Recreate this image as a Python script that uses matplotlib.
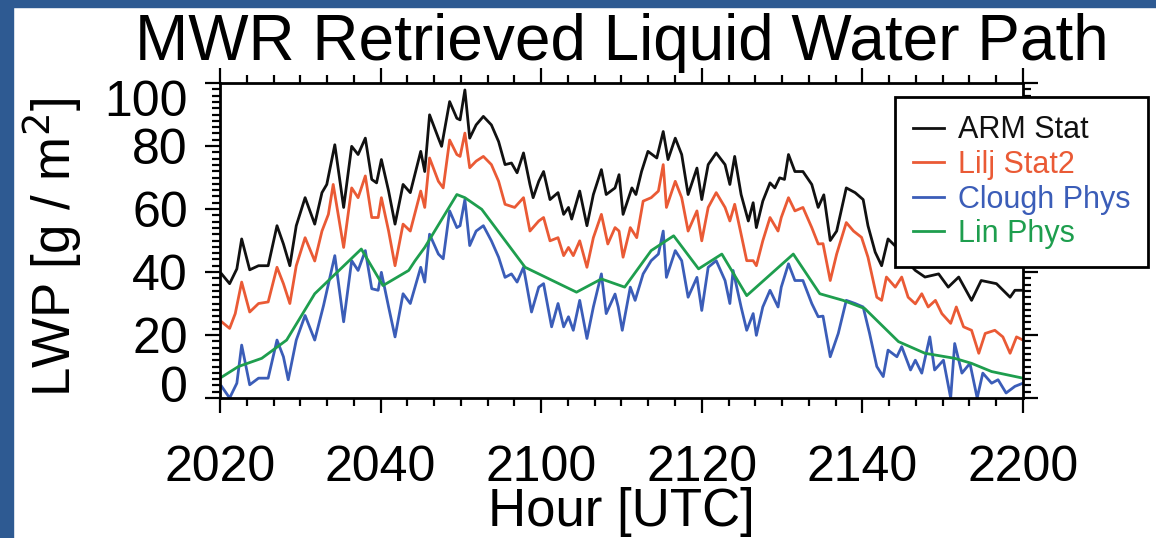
import matplotlib
matplotlib.use('Agg')
import matplotlib.pyplot as plt
from matplotlib.ticker import MultipleLocator
from matplotlib.patches import Rectangle
from matplotlib.transforms import ScaledTranslation

# time in minutes after 20:20 UTC, LWP in g/m2
arm_t = [0.2, 1.2, 2.1, 2.7, 3.7, 4.8, 6.0, 7.1, 7.9, 8.7, 9.5, 10.6, 11.8, 12.7, 13.3, 14.3,
         15.4, 16.4, 17.2, 18.1, 18.9, 19.5, 20.1, 21.0, 21.8, 22.8, 23.7, 25.0, 25.5, 26.1,
         27.2, 27.6, 28.6, 29.5, 29.9, 30.5, 31.1, 31.9, 32.8, 33.8, 34.7, 35.5, 36.3, 37.0,
         37.8, 38.6, 39.0, 39.7, 40.3, 41.1, 42.1, 42.8, 43.4, 43.8, 44.8, 45.7, 46.5, 47.5,
         48.1, 49.2, 49.7, 50.2, 51.3, 51.8, 52.5, 53.3, 54.4, 55.2, 55.8, 56.7, 57.5, 58.3,
         59.4, 60.0, 60.8, 61.8, 62.9, 63.5, 64.1, 64.9, 65.8, 66.4, 66.8, 67.6, 68.5, 69.1,
         69.7, 70.3, 70.8, 71.6, 72.6, 73.7, 74.5, 75.2, 76.0, 76.8, 78.0, 79.1, 80.1, 80.7,
         81.6, 82.4, 83.2, 84.2, 85.3, 86.6, 87.8, 89.5, 90.7, 92.0, 93.6, 94.8, 96.7, 98.4,
         99.0, 99.8]
arm_lwp = [39.4, 36.3, 41.0, 50.5, 40.7, 42.0, 42.0, 54.7, 48.9, 42.0, 54.7, 63.6, 55.2, 65.2, 67.8, 80.4,
           60.5, 79.9, 77.3, 82.5, 69.4, 68.3, 75.7, 65.7, 55.2, 67.8, 65.2, 78.3, 71.9, 89.9,
           82.5, 79.9, 94.1, 88.8, 88.3, 97.8, 82.5, 86.7, 89.4, 86.7, 81.4, 74.1, 74.6, 71.5,
           77.8, 67.8, 63.6, 68.8, 71.9, 63.0, 65.2, 58.3, 60.5, 56.8, 65.7, 54.7, 64.6, 72.5,
           64.6, 66.7, 70.9, 58.3, 66.7, 64.6, 71.9, 78.3, 76.2, 84.6, 75.7, 82.5, 77.3, 64.6,
           73.0, 63.0, 74.1, 77.8, 74.1, 67.8, 76.7, 64.6, 56.2, 62.0, 54.1, 62.5, 68.3, 66.7,
           69.9, 69.4, 77.3, 71.9, 71.9, 67.8, 60.5, 64.5, 50.0, 53.0, 66.7, 65.2, 63.0, 54.7,
           46.3, 42.0, 50.5, 48.0, 44.0, 40.5, 38.4, 39.4, 35.2, 38.4, 31.0, 37.3, 36.3, 32.0,
           34.2, 34.2]

lilj_t = [0.2, 1.2, 1.9, 2.7, 3.7, 4.8, 6.0, 7.1, 7.9, 8.7, 9.5, 10.6, 11.8, 12.7, 13.5, 14.1,
          15.4, 16.4, 17.2, 18.1, 18.9, 19.7, 20.1, 21.0, 21.8, 22.8, 23.7, 25.0, 25.5, 26.1,
          27.2, 27.8, 28.6, 29.5, 29.9, 30.5, 31.1, 31.9, 32.8, 33.8, 34.7, 35.5, 36.7, 37.8,
          38.6, 39.7, 40.3, 41.1, 42.1, 42.8, 43.4, 44.0, 44.8, 45.7, 46.5, 47.5, 48.3, 49.2,
          49.7, 50.2, 51.1, 51.9, 52.7, 53.7, 54.6, 55.2, 55.6, 56.7, 57.5, 58.3, 59.4, 60.0,
          60.8, 61.8, 62.9, 63.5, 64.1, 64.9, 65.6, 66.4, 66.8, 67.6, 68.5, 69.5, 69.9, 70.8,
          71.6, 72.6, 73.7, 74.5, 75.1, 76.0, 76.8, 78.0, 78.9, 79.9, 80.7, 81.8, 82.4, 83.0,
          84.1, 84.9, 85.7, 86.6, 87.4, 88.2, 89.1, 89.9, 91.0, 91.7, 92.6, 93.6, 94.5, 95.3,
          96.5, 97.5, 98.4, 99.2, 100.0]
lilj_lwp = [24.2, 22.1, 26.8, 36.8, 27.3, 30.0, 30.5, 41.5, 36.3, 30.0, 42.0, 50.9, 43.5, 53.0, 58.3, 67.8,
            47.8, 66.7, 63.6, 70.5, 57.3, 57.3, 63.6, 53.0, 42.0, 55.2, 53.0, 65.7, 60.5, 76.2,
            68.8, 66.7, 81.9, 77.3, 76.7, 84.1, 73.1, 75.2, 76.7, 74.1, 68.8, 61.5, 60.5, 63.6,
            53.0, 56.2, 57.3, 49.9, 50.9, 45.2, 47.8, 45.2, 49.9, 41.5, 50.9, 58.3, 48.9, 54.1,
            53.0, 44.7, 54.1, 50.9, 62.5, 63.6, 65.7, 74.1, 60.5, 68.8, 63.6, 53.0, 59.4, 49.9,
            60.5, 65.2, 60.5, 56.2, 61.5, 52.0, 43.6, 43.6, 42.0, 49.9, 57.3, 53.0, 57.3, 63.6,
            59.4, 60.5, 54.1, 48.9, 49.0, 37.3, 45.7, 55.7, 53.0, 51.0, 44.7, 32.0, 31.0, 38.4,
            35.2, 38.4, 32.0, 29.9, 33.1, 28.9, 31.0, 26.8, 23.7, 28.9, 22.6, 21.5, 14.2, 20.5,
            21.5, 19.4, 14.2, 19.4, 18.4]

clough_t = [0.2, 1.2, 2.1, 2.7, 3.7, 4.8, 6.0, 7.1, 7.9, 8.5, 9.5, 10.6, 11.8, 12.9, 14.3, 15.4,
            16.4, 17.2, 18.1, 18.9, 19.7, 20.1, 21.0, 21.8, 22.8, 23.7, 25.0, 25.5, 26.1, 27.2,
            27.8, 28.6, 29.5, 29.9, 30.5, 31.1, 31.9, 32.8, 33.8, 34.7, 35.5, 36.3, 37.0, 37.8,
            38.8, 39.7, 40.3, 41.3, 42.1, 42.8, 43.4, 44.0, 44.8, 45.7, 46.5, 47.5, 48.1, 49.2,
            49.6, 50.1, 51.1, 51.7, 52.7, 53.7, 54.6, 55.2, 55.6, 56.7, 57.5, 58.3, 59.4, 60.0,
            60.8, 61.8, 62.9, 63.5, 63.9, 64.9, 65.6, 66.4, 66.8, 67.6, 68.5, 69.5, 69.9, 70.8,
            71.6, 72.6, 73.7, 74.5, 75.1, 76.0, 77.0, 78.0, 79.1, 80.1, 80.9, 81.8, 82.6, 83.2,
            84.3, 84.9, 86.0, 86.6, 87.4, 88.4, 89.0, 90.1, 91.0, 91.5, 92.4, 93.4, 94.3, 95.0,
            96.1, 96.9, 97.9, 99.0, 100.0]
clough_lwp = [3.7, 0.0, 4.7, 16.8, 4.2, 6.3, 6.3, 18.4, 13.1, 5.8, 18.4, 26.2, 18.4, 29.4, 45.2, 24.2,
              43.6, 40.5, 46.8, 34.7, 34.2, 39.9, 28.9, 19.4, 33.1, 30.0, 41.5, 36.8, 52.0, 45.7,
              44.2, 59.4, 54.1, 54.7, 63.0, 48.4, 53.0, 54.7, 49.9, 44.7, 38.3, 39.4, 36.8, 41.5,
              27.3, 35.2, 36.3, 22.6, 30.0, 22.6, 25.8, 21.5, 31.0, 18.9, 28.9, 39.4, 26.8, 33.0,
              28.9, 21.5, 35.2, 31.0, 39.4, 43.6, 45.7, 53.0, 38.3, 46.8, 43.6, 32.0, 38.3, 27.8,
              41.5, 43.6, 37.3, 30.0, 40.5, 28.9, 21.5, 26.8, 19.9, 28.9, 34.2, 28.9, 35.2, 42.6,
              37.3, 37.3, 30.0, 25.8, 26.0, 13.1, 20.5, 31.0, 30.0, 28.9, 20.5, 10.0, 6.8, 15.2,
              13.1, 16.3, 8.9, 12.0, 7.9, 19.4, 8.9, 12.0, 0.0, 17.3, 7.9, 11.0, 0.0, 7.9,
              4.7, 5.8, 1.6, 3.7, 4.7]

lin_t = [0.0, 2.3, 5.2, 8.3, 11.8, 17.6, 20.3, 23.5, 24.3, 25.5, 29.5, 30.5, 32.6, 38.0, 44.4,
         47.5, 50.4, 53.7, 56.5, 59.6, 62.5, 65.6, 71.4, 74.7, 77.6, 80.3, 84.5, 87.8, 91.5,
         93.6, 96.1, 100.0]
lin_lwp = [6.3, 10.0, 12.6, 18.4, 33.1, 47.3, 35.7, 40.5, 43.6, 47.8, 64.6, 63.6, 59.9, 41.5, 33.6,
           37.8, 35.2, 46.8, 51.5, 41.0, 45.7, 32.5, 45.7, 33.1, 31.0, 28.4, 17.9, 14.2, 12.6,
           11.0, 8.4, 6.3]

hour_ticks = [0, 20, 40, 60, 80, 100]
hour_labels = ['2020', '2040', '2100', '2120', '2140', '2200']
lwp_ticks = [0, 20, 40, 60, 80, 100]
lwp_labels = ['0', '20', '40', '60', '80', '100']

plt.rcParams['font.family'] = ['Liberation Sans', 'DejaVu Sans']

fig = plt.figure(figsize=(11.56, 5.38), dpi=100)
fig.patch.set_facecolor('white')

# blue frame strips at the top and left edge
fig.patches.append(Rectangle((0, 1 - 7 / 538), 1, 7 / 538, transform=fig.transFigure,
                             color='#2E5A92', zorder=0))
fig.patches.append(Rectangle((0, 0), 13 / 1156, 1, transform=fig.transFigure,
                             color='#2E5A92', zorder=0))

ax = fig.add_axes([0.1903, 0.2602, 0.6946, 0.5855])
ax.plot(arm_t, arm_lwp, color='#111111', lw=2.0, label='ARM Stat')
ax.plot(lilj_t, lilj_lwp, color='#EA5A35', lw=2.0, label='Lilj Stat2')
ax.plot(clough_t, clough_lwp, color='#3B5DB8', lw=2.0, label='Clough Phys')
ax.plot(lin_t, lin_lwp, color='#1E9E4E', lw=2.0, label='Lin Phys')

ax.set_xlim(0, 100)
ax.set_ylim(0, 100)
ax.set_xticks(hour_ticks)
ax.set_xticklabels(hour_labels)
ax.xaxis.set_minor_locator(MultipleLocator(20 / 6))
ax.set_yticks(lwp_ticks)
ax.set_yticklabels([])
ax.yaxis.set_minor_locator(MultipleLocator(2))
ax.tick_params(which='both', direction='out', top=True, right=True, width=1.6)
ax.tick_params(which='major', length=11)
ax.tick_params(which='minor', length=6)
ax.tick_params(axis='x', labelsize=36, pad=23)
for s in ax.spines.values():
    s.set_linewidth(2)

# y labels drawn by hand: the end labels sit a bit inside the frame, like the original
ylab_tr = ax.get_yaxis_transform() + ScaledTranslation(-0.32, 0, fig.dpi_scale_trans)
for val, lab in zip(lwp_ticks, lwp_labels):
    shift = 0.0
    if val == 100:
        shift = -0.15
    elif val == 0:
        shift = 0.14
    tr = ylab_tr + ScaledTranslation(0, shift, fig.dpi_scale_trans)
    ax.text(0, val, lab, transform=tr, fontsize=36, ha='right', va='center_baseline')

fig.text(0.5375, 0.888, 'MWR Retrieved Liquid Water Path', fontsize=46, ha='center', va='baseline')
fig.text(0.5375, 0.023, 'Hour [UTC]', fontsize=38, ha='center', va='baseline')
fig.text(0.045, 0.54, 'LWP [g / m$^2$]', fontsize=38, rotation=90, ha='center', va='center')

leg = ax.legend(loc='upper left', bbox_to_anchor=(0.7742, 0.8197), bbox_transform=fig.transFigure,
                fontsize=22, fancybox=False, edgecolor='black', framealpha=1,
                handlelength=1.0, handletextpad=0.45, borderpad=0.6, labelspacing=0.15,
                borderaxespad=0)
leg.get_frame().set_linewidth(2)
for text, line in zip(leg.get_texts(), leg.get_lines()):
    text.set_color(line.get_color())

fig.savefig('out.png', dpi=100)
